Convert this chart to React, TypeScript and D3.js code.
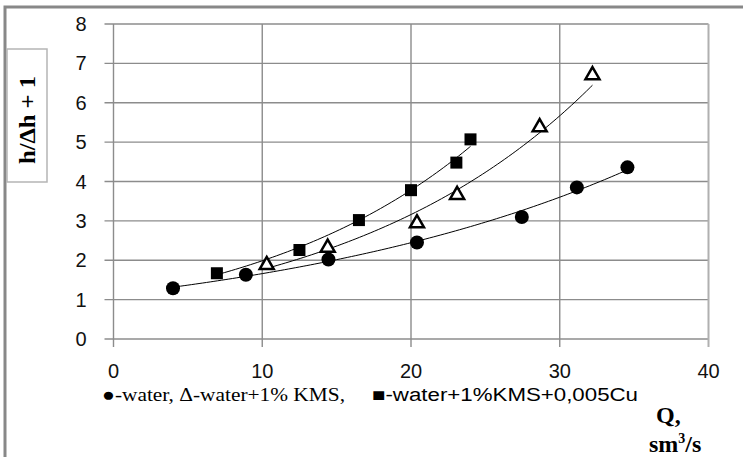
import * as d3 from 'd3';
import React, { useEffect, useRef } from 'react';

// values
const waterQ = [4.0, 8.9, 14.45, 20.4, 27.45, 31.15, 34.55];
const waterH = [1.29, 1.63, 2.02, 2.45, 3.1, 3.85, 4.36];
const kmsQ = [10.3, 14.4, 20.4, 23.1, 28.65, 32.2];
const kmsH = [1.88, 2.32, 2.94, 3.66, 5.38, 6.7];
const cuQ = [6.95, 12.5, 16.5, 20.0, 23.05, 24.0];
const cuH = [1.67, 2.26, 3.02, 3.78, 4.48, 5.07];
const xTicks = [0, 10, 20, 30, 40];
const yTicks = [0, 1, 2, 3, 4, 5, 6, 7, 8];

// exponential trendline, least squares on ln(y)
function expFit(xs: number[], ys: number[]) {
  const ly = ys.map(Math.log);
  const mx = d3.mean(xs)!, my = d3.mean(ly)!;
  let sxy = 0, sxx = 0;
  xs.forEach((x, i) => { sxy += (x - mx) * (ly[i] - my); sxx += (x - mx) * (x - mx); });
  const b = sxy / sxx;
  const a = Math.exp(my - b * mx);
  return (x: number) => a * Math.exp(b * x);
}

const App = () => {
  const ref = useRef<SVGSVGElement>(null);

  useEffect(() => {
    const svg = d3.select(ref.current);
    svg.selectAll('*').remove();

    const x = d3.scaleLinear().domain([0, 40]).range([113.5, 708.5]);
    const y = d3.scaleLinear().domain([0, 8]).range([339, 24]);
    const grid = '#8c8c8c';

    // outer frame (top + left edges visible)
    svg.append('path').attr('d', 'M5,457 V7 H743')
      .attr('fill', 'none').attr('stroke', '#888').attr('stroke-width', 3);

    // y label box
    svg.append('rect').attr('x', 7).attr('y', 49).attr('width', 40).attr('height', 133)
      .attr('fill', '#fff').attr('stroke', '#b5b5b5').attr('stroke-width', 1.5);
    svg.append('text')
      .attr('transform', 'translate(35,120) rotate(-90)')
      .attr('text-anchor', 'middle')
      .attr('font-family', 'Liberation Serif').attr('font-weight', 'bold').attr('font-size', 23)
      .attr('textLength', 88).attr('lengthAdjust', 'spacingAndGlyphs')
      .text('h/Δh + 1');

    // grid
    svg.append('g').selectAll('line').data(yTicks).enter().append('line')
      .attr('x1', x(0) - 9).attr('x2', x(40)).attr('y1', d => y(d)).attr('y2', d => y(d))
      .attr('stroke', grid).attr('stroke-width', 1.4);
    svg.append('g').selectAll('line').data(xTicks).enter().append('line')
      .attr('x1', d => x(d)).attr('x2', d => x(d)).attr('y1', y(8)).attr('y2', y(0) + 8)
      .attr('stroke', d => d === 40 ? '#b0b0b0' : grid).attr('stroke-width', d => d === 40 ? 2 : 1.4);

    // tick labels
    svg.append('g').selectAll('text').data(yTicks).enter().append('text')
      .attr('x', 81).attr('y', d => y(d) + 7).attr('text-anchor', 'middle')
      .attr('font-family', 'Liberation Sans').attr('font-size', 20).attr('fill', '#111')
      .text(d => d);
    svg.append('g').selectAll('text').data(xTicks).enter().append('text')
      .attr('x', d => x(d)).attr('y', 378).attr('text-anchor', 'middle')
      .attr('font-family', 'Liberation Sans').attr('font-size', 20).attr('fill', '#111')
      .text(d => d);

    // trendlines
    const line = d3.line<number[]>().x(d => x(d[0])).y(d => y(d[1]));
    [[waterQ, waterH], [kmsQ, kmsH], [cuQ, cuH]].forEach(([qs, hs]) => {
      const f = expFit(qs, hs);
      const lo = d3.min(qs)!, hi = d3.max(qs)!;
      const pts = d3.range(lo, hi, 0.25).concat([hi]).map(q => [q, f(q)]);
      svg.append('path').attr('d', line(pts))
        .attr('fill', 'none').attr('stroke', '#000').attr('stroke-width', 1);
    });

    // markers
    svg.append('g').selectAll('circle').data(waterQ).enter().append('circle')
      .attr('cx', d => x(d)).attr('cy', (d, i) => y(waterH[i])).attr('r', 7).attr('fill', '#000');
    svg.append('g').selectAll('rect').data(cuQ).enter().append('rect')
      .attr('x', d => x(d) - 6).attr('y', (d, i) => y(cuH[i]) - 6)
      .attr('width', 12).attr('height', 12).attr('fill', '#000');
    const tri = d3.symbol().type(d3.symbolTriangle).size(85);
    svg.append('g').selectAll('path').data(kmsQ).enter().append('path')
      .attr('d', tri)
      .attr('transform', (d, i) => `translate(${x(d)},${y(kmsH[i])})`)
      .attr('fill', '#fff').attr('stroke', '#000').attr('stroke-width', 2.5);

    // legend
    svg.append('text').attr('x', 102).attr('y', 401)
      .attr('font-family', 'Liberation Serif').attr('font-size', 19)
      .attr('textLength', 243).attr('lengthAdjust', 'spacingAndGlyphs')
      .text('●-water,  Δ-water+1% KMS,');
    svg.append('text').attr('x', 372).attr('y', 401)
      .attr('font-family', 'Liberation Sans').attr('font-size', 18)
      .attr('textLength', 266).attr('lengthAdjust', 'spacingAndGlyphs')
      .text('■-water+1%KMS+0,005Cu');

    // x axis title
    svg.append('text').attr('x', 656).attr('y', 423)
      .attr('font-family', 'Liberation Serif').attr('font-weight', 'bold').attr('font-size', 24)
      .text('Q,');
    const t2 = svg.append('text').attr('x', 649).attr('y', 452)
      .attr('font-family', 'Liberation Serif').attr('font-weight', 'bold').attr('font-size', 24);
    t2.append('tspan').text('sm');
    t2.append('tspan').attr('font-size', 14).attr('dy', -9).text('3');
    t2.append('tspan').attr('dy', 9).text('/s');
  }, []);

  return (
    <svg ref={ref} width={743} height={457}
      style={{ position: 'absolute', left: 0, top: 0, background: '#fff' }} />
  );
};

export default App;
